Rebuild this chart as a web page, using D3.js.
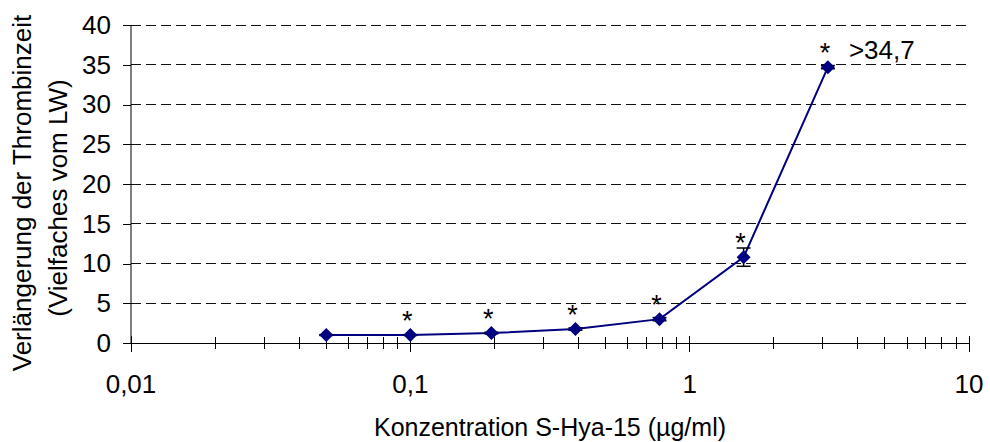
<!DOCTYPE html>
<html>
<head>
<meta charset="utf-8">
<script src="https://cdn.jsdelivr.net/npm/d3@7"></script>
<style>
  body { margin: 0; background: #fff; }
  svg { display: block; font-family: Arial, "Liberation Sans", sans-serif; }
</style>
</head>
<body>
<svg id="chart" width="990" height="442"></svg>
<script>
// Concentration of S-Hya-15 (µg/ml) and thrombin time prolongation (multiple of control)
const concentrations = [0.05, 0.1, 0.195, 0.39, 0.78, 1.56, 3.125];
const prolongation   = [1.0, 1.0, 1.25, 1.75, 3.0, 10.8, 34.7];
const errors         = [0.05, 0.05, 0.1, 0.15, 0.2, 1.15, 0.2];
const significant    = [false, true, true, true, true, true, true];
const xTickValues = [0.01, 0.1, 1, 10];
const xTickLabels = ["0,01", "0,1", "1", "10"];
const yTickValues = [0, 5, 10, 15, 20, 25, 30, 35, 40];
const lastValueNote = ">34,7";
const xTitle = "Konzentration S-Hya-15 (µg/ml)";
const yTitleLines = ["Verlängerung der Thrombinzeit", "(Vielfaches vom LW)"];

const svg = d3.select("#chart");
const plotLeft = 131, plotRight = 969, plotTop = 25, plotBottom = 343;
const navy = "#000080";

const x = d3.scaleLog().domain([0.01, 10]).range([plotLeft, plotRight]);
const y = d3.scaleLinear().domain([0, 40]).range([plotBottom, plotTop]);

// horizontal dashed gridlines
svg.append("g").selectAll("line")
  .data(yTickValues.filter(v => v > 0))
  .join("line")
  .attr("x1", plotLeft).attr("x2", plotRight)
  .attr("y1", d => y(d)).attr("y2", d => y(d))
  .attr("stroke", "#111").attr("stroke-width", 1)
  .attr("stroke-dasharray", "10,5")
  .attr("shape-rendering", "crispEdges");

// y axis with outside ticks
const yAxis = d3.axisLeft(y).tickValues(yTickValues).tickSize(8).tickPadding(12)
  .tickFormat(d => String(d));
const gy = svg.append("g").attr("transform", `translate(${plotLeft},0)`).call(yAxis);
gy.select(".domain").attr("stroke", "#000").attr("d", `M0,${plotTop}V${plotBottom}`);
gy.selectAll(".tick line").attr("stroke", "#000").attr("shape-rendering", "crispEdges");
gy.selectAll(".tick text").attr("font-size", 26).attr("fill", "#000")
  .attr("font-family", "Arial, 'Liberation Sans', sans-serif");

// x axis line
svg.append("line")
  .attr("x1", plotLeft - 8).attr("x2", plotRight)
  .attr("y1", plotBottom).attr("y2", plotBottom)
  .attr("stroke", "#000").attr("shape-rendering", "crispEdges");

// minor ticks (2..9 within each decade), crossing the axis
const minorTicks = [];
xTickValues.slice(0, -1).forEach(d => { for (let k = 2; k <= 9; k++) minorTicks.push(d * k); });
svg.append("g").selectAll("line")
  .data(minorTicks).join("line")
  .attr("x1", d => x(d)).attr("x2", d => x(d))
  .attr("y1", plotBottom - 6).attr("y2", plotBottom + 6)
  .attr("stroke", "#000").attr("shape-rendering", "crispEdges");

// major ticks and labels
svg.append("g").selectAll("line")
  .data(xTickValues).join("line")
  .attr("x1", d => x(d)).attr("x2", d => x(d))
  .attr("y1", plotBottom - 7).attr("y2", plotBottom + 9)
  .attr("stroke", "#000").attr("shape-rendering", "crispEdges");
svg.append("g").selectAll("text")
  .data(xTickValues).join("text")
  .attr("x", d => x(d)).attr("y", 393)
  .attr("text-anchor", "middle").attr("font-size", 26).attr("fill", "#000")
  .text((d, i) => xTickLabels[i]);

// axis titles
svg.append("text")
  .attr("x", (plotLeft + plotRight) / 2).attr("y", 436)
  .attr("text-anchor", "middle").attr("font-size", 25).attr("fill", "#000")
  .text(xTitle);
svg.append("g").selectAll("text")
  .data(yTitleLines).join("text")
  .attr("transform", (d, i) => i === 0 ? "translate(31,193) rotate(-90)" : "translate(67,198) rotate(-90)")
  .attr("text-anchor", "middle").attr("font-size", 26).attr("fill", "#000")
  .text(d => d);

const data = concentrations.map((c, i) => ({
  c, v: prolongation[i], e: errors[i], sig: significant[i]
}));

// connecting line
svg.append("path")
  .datum(data)
  .attr("fill", "none").attr("stroke", navy).attr("stroke-width", 2)
  .attr("d", d3.line().x(d => x(d.c)).y(d => y(d.v)));

// error bars
const eb = svg.append("g").attr("stroke", "#000").attr("stroke-width", 1.5);
data.forEach(d => {
  const cx = x(d.c);
  eb.append("line").attr("x1", cx).attr("x2", cx).attr("y1", y(d.v + d.e)).attr("y2", y(d.v - d.e));
  eb.append("line").attr("x1", cx - 7).attr("x2", cx + 7).attr("y1", y(d.v + d.e)).attr("y2", y(d.v + d.e));
  eb.append("line").attr("x1", cx - 7).attr("x2", cx + 7).attr("y1", y(d.v - d.e)).attr("y2", y(d.v - d.e));
});

// diamond markers
svg.append("g").selectAll("path")
  .data(data).join("path")
  .attr("d", d => {
    const cx = x(d.c), cy = y(d.v);
    return `M${cx},${cy - 7}L${cx + 7},${cy}L${cx},${cy + 7}L${cx - 7},${cy}Z`;
  })
  .attr("fill", navy);

// significance marks
svg.append("g").selectAll("text")
  .data(data.filter(d => d.sig)).join("text")
  .attr("x", d => x(d.c) - 3).attr("y", d => y(d.v) - 5)
  .attr("text-anchor", "middle").attr("font-size", 27).attr("fill", "#000")
  .text("*");

// note next to the last point
const last = data[data.length - 1];
svg.append("text")
  .attr("x", x(last.c) + 21).attr("y", y(last.v) - 8)
  .attr("font-size", 26).attr("fill", "#000")
  .text(lastValueNote);
</script>
</body>
</html>
